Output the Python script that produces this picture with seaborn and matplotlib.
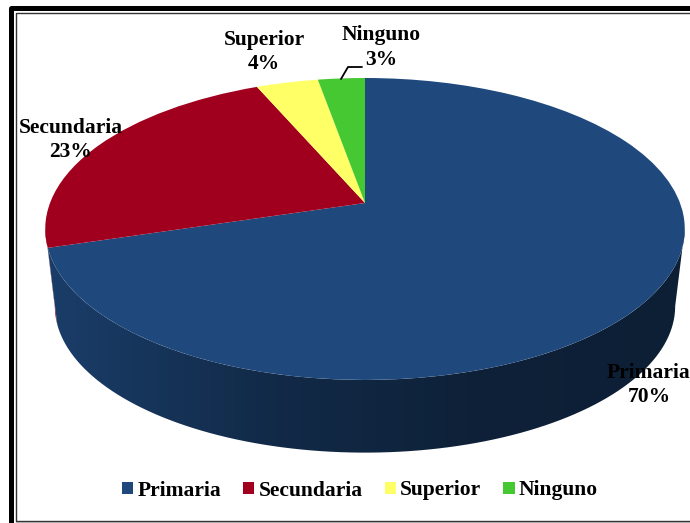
import numpy as np
import matplotlib
matplotlib.use("Agg")
import matplotlib.pyplot as plt
from matplotlib.path import Path
from matplotlib.transforms import Transform
import seaborn as sns

categories = ["Primaria", "Secundaria", "Superior", "Ninguno"]
values = [70.3, 23.2, 3.7, 2.8]
colors = ["#1F497D", "#A0001E", "#FFFF66", "#46C832"]

# pixel layout of the tilted disc
APEX_X, APEX_Y = 365, 203
RX, RY, TILT = 315, 146.5, 0.172
DEPTH, BOTTOM_SCALE = 78, 0.97

sns.set_theme(style="white")
plt.rcParams["font.family"] = ["Liberation Serif", "DejaVu Serif"]
FONT = dict(fontsize=15.5, fontweight="bold", color="black")


def project(u, v, scale=1.0, drop=0.0):
    # unit circle -> picture, with the near edge pulled towards the viewer
    w = 1 + TILT * v
    return APEX_X + scale * RX * u / w, APEX_Y + drop - scale * RY * v / w


class TiltTransform(Transform):
    input_dims = output_dims = 2

    def transform_non_affine(self, values):
        x, y = project(values[:, 0], values[:, 1])
        return np.column_stack([x, y])


fig = plt.figure(figsize=(6.9, 5.23), dpi=100)
ax = fig.add_axes([0, 0, 1, 1])

wedges, _ = ax.pie(values, colors=colors, startangle=90, counterclock=False,
                   wedgeprops=dict(linewidth=0))
tilt = TiltTransform()
for w in wedges:
    w.set_transform(tilt + ax.transData)
    w.set_clip_on(False)
    w.set_zorder(5)

# side wall: a left-to-right gradient clipped to the band under each slice
edges = np.cumsum([0] + values) / sum(values) * 2 * np.pi
front_start = np.arccos(-TILT)  # rim angle where the disc is widest
front_end = 2 * np.pi - front_start
gradient = np.linspace(0, 1, 256)[None, :]
for i, col in enumerate(colors):
    start, end = max(edges[i], front_start), min(edges[i + 1], front_end)
    if start >= end:
        continue  # this slice has no wall facing the viewer
    cmap = sns.blend_palette([sns.set_hls_values(col, l=0.26),
                              sns.set_hls_values(col, l=0.18),
                              sns.set_hls_values(col, l=0.137),
                              sns.set_hls_values(col, l=0.13)], as_cmap=True)
    t = np.linspace(start, end, 200)
    xt, yt = project(np.sin(t), np.cos(t))
    xb, yb = project(np.sin(t), np.cos(t), BOTTOM_SCALE, DEPTH)
    im = ax.imshow(gradient, cmap=cmap, aspect="auto", extent=(40, 690, 523, 0),
                   zorder=3 if i == 0 else 2)
    band = Path(np.column_stack([np.r_[xt, xb[::-1]], np.r_[yt, yb[::-1]]]))
    im.set_clip_path(band, transform=ax.transData)

ax.set_aspect("auto")
ax.set_xlim(0, 690)
ax.set_ylim(523, 0)
ax.set_axis_off()

# data labels
label_pos = [(649, 385), (71, 140), (264, 52), (381, 47.5)]
for cat, val, (x, y) in zip(categories, values, label_pos):
    ax.text(x, y, f"{cat}\n{val:.0f}%", ha="center", va="center", linespacing=1.32,
            zorder=8, **FONT)

# leader line for Ninguno
ax.plot([341, 348, 362], [79, 67, 67], color="black", lw=1.3, zorder=8)

# legend
leg = ax.legend(wedges, categories, loc="center", ncol=4, frameon=False,
                bbox_to_anchor=(360 / 690, (523 - 490.5) / 523),
                handlelength=0.52, handleheight=0.52, handletextpad=0.2,
                columnspacing=1.02, borderpad=0, labelcolor="black",
                prop=dict(family="Liberation Serif", size=15.5, weight="bold"))

# picture frame: heavy outer rule, thin inner rule, no right side
ax.plot([10.5, 10.5, 690], [523, 7.5, 7.5], color="black", lw=3.6,
        solid_joinstyle="round", zorder=9)
ax.plot([15.5, 15.5, 690], [520.5, 12.5, 12.5], color="#333333", lw=1.0, zorder=9)
ax.plot([15.5, 690], [520.5, 520.5], color="#333333", lw=1.0, zorder=9)
ax.plot([15.5, 690], [522, 522], color="#aaaaaa", lw=0.7, zorder=9)

fig.savefig("out.png", dpi=100)
